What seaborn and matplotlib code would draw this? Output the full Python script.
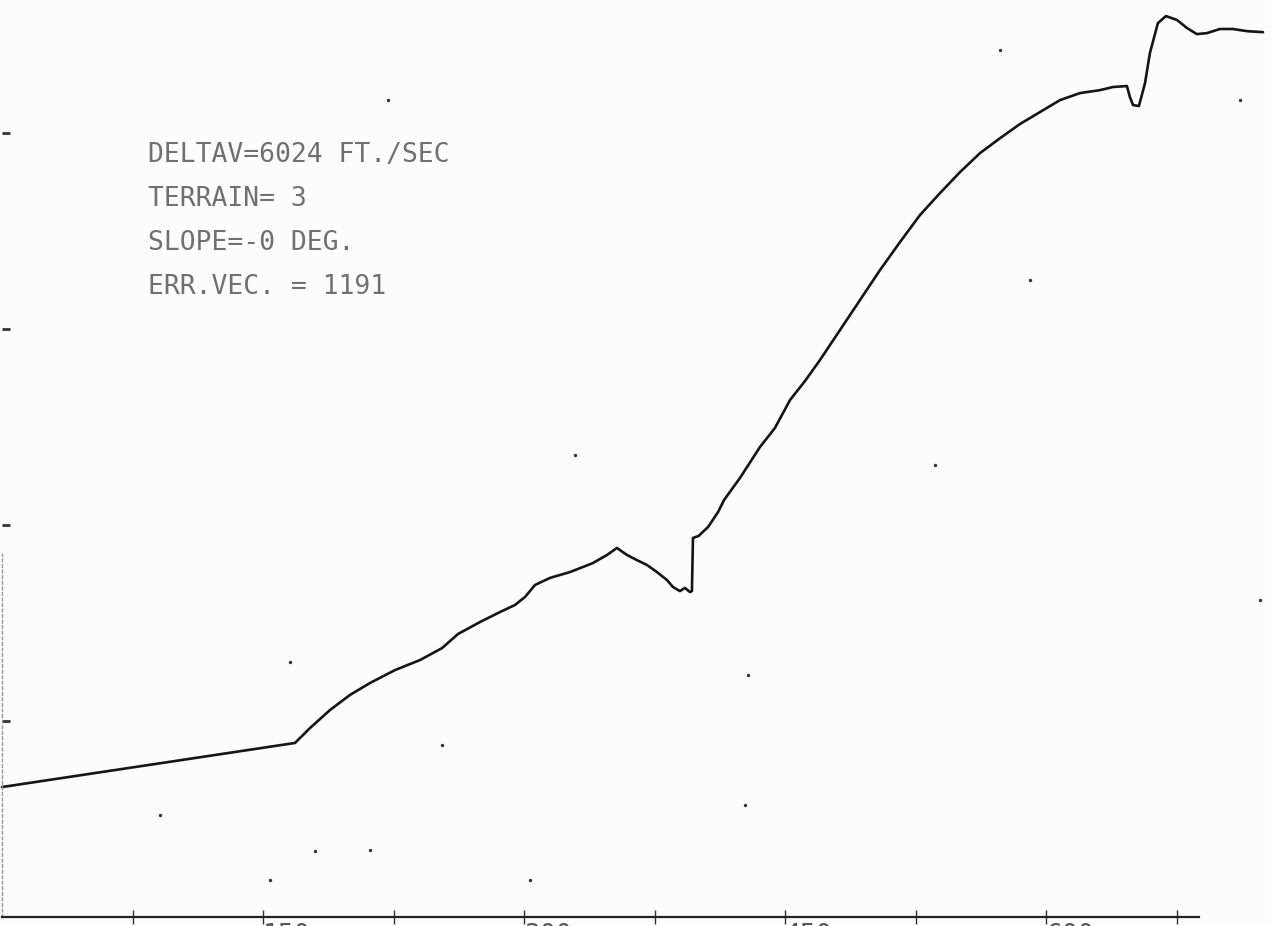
import matplotlib
matplotlib.use("Agg")
import matplotlib.pyplot as plt
import seaborn as sns
import pandas as pd

# ---- data (x in axis units, y in axis units) ----
path_x = [0, 168.4, 177.0, 188.5, 200.0, 211.5, 225.9, 240.2, 252.9, 262.1, 274.7,
          286.2, 294.8, 300.6, 306.3, 314.9, 326.4, 333.9, 339.6, 343.7, 347.7,
          353.4, 359.2, 364.9, 370.7, 376.4, 382.2, 385.6, 389.6, 392.5, 395.4,
          396.5, 397.1, 400.3, 405.8, 411.5, 415.0, 424.1, 435.6, 444.2, 452.9,
          461.5, 470.1, 481.6, 493.1, 504.6, 516.1, 527.6, 539.1, 550.6, 562.1,
          573.6, 585.0, 596.5, 608.0, 619.5, 631.0, 638.5, 646.5, 648.2, 650.0,
          653.4, 656.9, 659.7, 664.3, 668.9, 675.3, 681.0, 686.7, 692.5, 699.9,
          707.5, 715.5, 724.7]
path_y = [66.3, 88.8, 96.4, 105.6, 113.3, 119.4, 126.0, 131.1, 137.2, 144.4, 150.5,
          155.6, 159.2, 163.3, 169.4, 173.0, 176.0, 178.6, 180.6, 182.7, 184.7,
          188.3, 184.7, 182.1, 179.6, 176.0, 171.9, 168.4, 166.3, 167.9, 165.8,
          166.3, 193.4, 194.4, 199.0, 206.6, 212.8, 224.0, 239.8, 249.5, 263.8,
          273.5, 284.2, 299.5, 314.8, 330.1, 344.4, 358.2, 369.4, 380.1, 389.8,
          397.4, 404.6, 410.7, 416.8, 420.4, 421.9, 423.5, 424.0, 418.4, 414.3,
          413.8, 425.5, 440.8, 456.1, 459.7, 457.7, 453.6, 450.5, 451.0, 453.1,
          453.1, 452.0, 451.5]

# scan specks visible on the sheet
speck_x = [221.8, 329.3, 165.5, 252.9, 428.7, 590.8, 573.6, 536.2, 711.5, 722.9,
           427.0, 211.5, 90.8, 303.5, 154.0, 179.9]
speck_y = [416.8, 235.7, 130.1, 87.8, 123.5, 325.0, 442.3, 230.6, 416.8, 161.7,
           57.1, 34.2, 52.0, 18.9, 18.9, 33.7]

x_ticks = [75, 150, 225, 300, 375, 450, 525, 600, 675]
x_tick_labels = ["", "150", "", "300", "", "450", "", "600", ""]
y_ticks = [100, 200, 300, 400]

info_lines = ["DELTAV=6024 FT./SEC", "TERRAIN= 3", "SLOPE=-0 DEG.", "ERR.VEC. = 1191"]

# ---- figure ----
sns.set_style("white")
plt.rcParams["font.family"] = ["DejaVu Sans Mono", "DejaVu Sans"]

fig = plt.figure(figsize=(12.71, 9.26), dpi=100)
fig.patch.set_facecolor("#fcfcfc")
ax = fig.add_axes([0, 0, 1, 1])
ax.set_facecolor("#fcfcfc")

df = pd.DataFrame({"x": path_x, "y": path_y})
sns.lineplot(data=df, x="x", y="y", sort=False, estimator=None,
             color="#151515", linewidth=1.9, ax=ax)
sns.scatterplot(x=speck_x, y=speck_y, color="#333333", s=6, linewidth=0, ax=ax)

ax.set_xlim(-1.15, 729.3)
ax.set_ylim(-4.6, 467.9)

for side in ["top", "right"]:
    ax.spines[side].set_visible(False)
ax.spines["bottom"].set_position(("data", 0))
ax.spines["bottom"].set_bounds(0, 688)
ax.spines["bottom"].set_color("#222222")
ax.spines["bottom"].set_linewidth(1.6)
ax.spines["left"].set_position(("data", 0))
ax.spines["left"].set_bounds(0, 185)
ax.spines["left"].set_color("#999999")
ax.spines["left"].set_linewidth(1.0)
ax.spines["left"].set_linestyle((0, (2, 2)))

ax.set_xticks(x_ticks)
ax.set_xticklabels(x_tick_labels, ha="left", fontsize=19)
ax.tick_params(axis="x", bottom=True, direction="inout", length=10, width=1.0,
               colors="#333333", pad=-1, labelcolor="#555555")
ax.set_yticks(y_ticks)
ax.set_yticklabels([])
ax.tick_params(axis="y", left=True, direction="in", length=6, width=2,
               colors="#333333")
ax.set_xlabel("")
ax.set_ylabel("")

for i, line in enumerate(info_lines):
    ax.text(0.1165, 0.833 - i * 0.0475, line, transform=ax.transAxes,
            fontsize=19, color="#707070", va="center", ha="left",
            family=["DejaVu Sans Mono", "DejaVu Sans"])

fig.savefig("out.png", dpi=100, facecolor=fig.get_facecolor())
